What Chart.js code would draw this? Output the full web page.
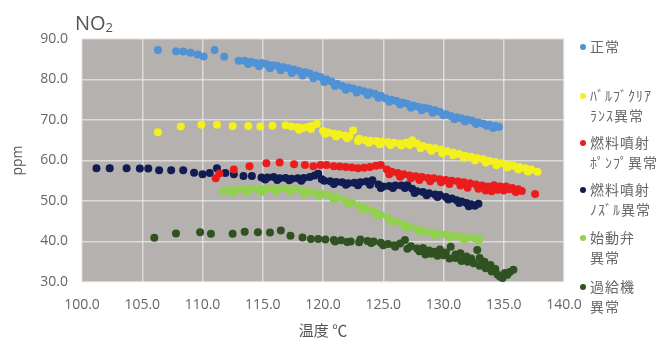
<!DOCTYPE html>
<html>
<head>
<meta charset="utf-8">
<script src="https://cdn.jsdelivr.net/npm/chart.js@4.4.1/dist/chart.umd.min.js"></script>
<style>
  html, body { margin: 0; padding: 0; background: #fff; }
  #wrap { width: 661px; height: 345px; }
</style>
</head>
<body>
<div id="wrap"><canvas id="canvas"></canvas></div>
<script>
// x axis ticks (温度 ℃) and y axis ticks (ppm)
const xTicks = [100, 105, 110, 115, 120, 125, 130, 135, 140];
const yTicks = [30, 40, 50, 60, 70, 80, 90];

// legend names, written on two lines like the original
const seriesNames = [
  ['正常'],
  ['ﾊﾞﾙﾌﾞｸﾘｱ', 'ﾗﾝｽ異常'],
  ['燃料噴射', 'ﾎﾟﾝﾌﾟ異常'],
  ['燃料噴射', 'ﾉｽﾞﾙ異常'],
  ['始動弁', '異常'],
  ['過給機', '異常']
];
const seriesColors = ['#4f92d6', '#f4f01c', '#ec1c1c', '#101c52', '#92d050', '#2f5220'];

// 正常
const normalX = [106.3,107.8,108.4,109.0,109.6,110.1,111.0,111.8,113.0,113.5,114.0,114.4,114.9,115.3,115.8,116.2,116.7,117.1,
  117.6,118.0,118.5,118.9,119.4,119.8,120.3,120.7,121.2,121.6,122.1,122.5,123.0,123.4,123.9,124.3,124.8,125.2,125.7,126.1,
  126.6,127.0,127.5,127.9,128.4,128.8,129.3,129.7,130.2,130.6,131.1,131.5,132.0,132.4,132.9,133.3,133.8,134.3,134.6,
  113.8,114.7,115.6,116.5,117.4,118.3,119.2,120.1,121.0,121.9,122.8,123.7,124.6,125.5,126.4,127.3,128.2,129.1,130.0,130.9,
  131.8,132.7,133.6,134.1];
const normalY = [87.3,87.0,86.9,86.6,86.2,85.7,87.3,85.6,84.6,84.6,84.4,84.1,84.1,83.8,83.5,83.4,83.0,82.8,
  82.5,82.1,81.8,81.5,81.0,80.6,80.0,79.5,78.9,78.4,78.0,77.8,77.4,77.1,76.8,76.5,76.0,75.4,75.0,74.7,
  74.3,74.0,73.6,73.3,73.0,72.8,72.4,72.0,71.4,71.0,70.7,70.4,70.1,69.8,69.4,69.1,68.8,68.5,68.3,
  83.8,83.3,82.8,82.3,81.6,81.0,80.3,79.4,78.4,77.5,76.8,76.2,75.5,74.5,73.8,73.0,72.4,71.8,71.2,70.2,
  69.6,69.0,68.6,68.0];

// バルブクリアランス異常
const valveX = [106.3,108.2,109.9,111.2,112.5,113.8,114.8,115.8,116.9,117.4,117.9,118.3,118.7,119.1,119.5,120.0,120.4,120.9,
  121.3,121.8,122.2,122.5,123.0,123.5,123.9,124.4,124.9,125.4,125.9,126.4,126.9,127.4,127.8,128.3,128.8,129.3,129.8,130.3,
  130.8,131.3,131.8,132.3,132.8,133.3,133.8,134.3,134.8,135.3,135.8,136.3,136.8,137.3,137.8,
  118.0,119.0,120.2,121.1,122.0,122.9,123.8,124.7,125.6,126.5,127.2,128.1,129.0,129.9,130.8,131.7,132.6,133.5,134.4,135.3,
  136.2,137.0];
const valveY = [67.0,68.4,68.8,68.8,68.5,68.5,68.4,68.6,68.7,68.4,68.2,68.0,68.3,68.6,69.0,67.3,67.0,66.6,
  66.5,66.2,66.0,67.4,65.4,65.0,64.9,64.8,64.6,64.5,64.4,64.2,64.4,65.0,64.2,63.6,63.2,63.0,62.7,62.3,
  62.0,61.6,61.2,60.9,60.6,60.3,59.9,59.6,59.3,59.0,58.7,58.4,58.1,57.8,57.2,
  67.6,67.8,66.6,65.9,65.5,64.8,64.4,64.0,63.8,63.7,63.8,63.0,62.4,61.8,61.3,60.6,60.0,59.5,58.8,58.3,
  57.8,57.3];

// 燃料噴射ポンプ異常
const pumpX = [111.1,111.4,112.6,113.9,115.3,116.4,117.6,118.5,119.2,119.8,120.3,120.9,121.4,121.9,122.4,122.9,123.4,123.9,
  124.4,124.8,125.3,125.7,126.2,126.7,127.2,127.7,128.2,128.7,129.2,129.7,130.2,130.7,131.2,131.7,132.2,132.7,133.2,133.7,
  134.2,134.7,135.2,135.7,136.2,136.5,137.6,
  125.5,126.4,127.3,128.0,128.9,129.8,130.5,131.4,132.0,132.9,133.5,134.0,134.5,135.0,135.5,136.0];
const pumpY = [55.6,56.8,57.8,58.6,59.3,59.5,59.1,58.9,58.6,58.9,58.9,58.6,58.5,58.4,58.3,58.1,58.2,58.4,
  58.7,58.9,57.8,57.2,56.9,56.6,56.3,56.1,55.9,55.7,55.6,55.4,55.2,55.0,54.8,54.6,54.4,54.1,53.8,53.6,
  53.9,53.6,53.6,53.2,52.9,52.5,51.7,
  56.6,56.0,55.6,55.2,54.9,54.6,54.2,53.8,53.3,53.0,52.6,52.4,52.8,52.6,52.9,52.2];

// 燃料噴射ノズル異常
const nozzleX = [101.2,102.3,103.7,104.8,105.5,106.4,107.4,108.4,109.3,110.0,110.6,111.2,111.9,112.6,113.4,114.1,114.9,115.4,
  115.9,116.4,116.9,117.4,117.9,118.4,118.9,119.3,119.6,120.1,120.6,121.1,121.6,122.1,122.6,123.1,123.6,124.1,124.6,125.0,
  125.5,126.0,126.5,127.0,127.4,127.8,128.3,128.8,129.3,129.7,130.2,130.7,131.1,131.5,131.9,132.3,132.6,132.9,
  115.2,116.2,117.2,118.2,119.9,120.9,121.9,122.9,123.9,124.8,125.8,126.8,127.6,128.6,129.5,130.4,131.3,132.1];
const nozzleY = [58.1,58.1,58.1,58.0,58.0,57.6,57.6,57.6,57.0,56.6,56.9,58.1,56.9,56.6,56.2,56.2,55.8,55.8,
  55.9,55.6,55.7,55.5,55.6,55.7,55.9,56.3,56.7,55.0,54.9,54.7,54.6,54.4,54.5,54.6,54.8,55.1,54.1,53.6,
  53.7,53.8,53.8,53.9,53.0,52.4,52.2,51.9,51.6,51.5,51.0,50.6,50.2,49.9,49.5,49.2,48.8,49.3,
  55.3,55.2,55.1,55.0,55.4,54.2,54.0,53.9,54.0,53.2,53.2,53.2,52.0,51.4,51.0,50.4,49.5,48.7];

// 始動弁異常
const startX = [111.7,112.2,112.8,113.4,114.0,114.6,115.2,115.8,116.4,117.0,117.6,118.2,118.8,119.4,120.0,120.6,121.2,121.8,
  122.4,123.0,123.6,124.2,124.8,125.4,126.0,126.6,127.2,127.8,128.4,129.0,129.6,130.2,130.8,131.4,132.0,132.6,133.0,
  112.5,113.7,114.9,116.1,117.3,118.5,119.7,120.9,122.1,123.3,124.5,125.7,126.9,128.1,129.3,130.5,131.7,132.9];
const startY = [52.5,52.7,52.8,52.9,53.0,53.0,53.1,53.1,53.0,53.1,53.0,52.6,52.3,52.0,51.7,51.3,50.8,50.2,
  49.6,48.9,48.2,47.5,46.6,45.8,45.0,44.3,43.7,43.1,42.6,42.2,41.9,41.7,41.5,41.2,41.0,40.8,40.7,
  52.0,52.2,52.3,52.4,52.3,51.8,51.2,50.4,49.3,47.9,46.4,44.8,43.4,42.3,41.5,41.0,40.5,40.2];

// 過給機異常
const turboX = [106.0,107.8,109.8,110.7,112.5,113.5,114.6,115.6,116.5,117.3,118.3,119.0,119.6,120.2,120.9,121.5,122.3,123.1,
  123.7,124.2,124.8,125.4,125.9,126.4,126.8,127.3,127.8,128.3,128.8,129.2,129.7,130.2,130.6,131.0,131.4,131.9,132.3,132.8,
  133.0,133.4,133.9,134.3,134.7,135.1,135.5,135.8,
  121.0,122.0,123.0,124.0,125.0,126.0,127.0,128.0,128.5,129.0,129.5,130.0,130.5,131.0,131.5,132.0,132.5,133.0,133.5,134.0,
  134.5,134.9,135.3];
const turboY = [40.9,42.0,42.3,41.9,41.9,42.4,42.3,42.2,42.7,41.4,41.0,40.6,40.6,40.5,40.4,40.3,40.0,40.5,
  40.1,40.0,39.7,39.4,39.1,39.5,40.4,38.8,38.3,38.4,37.8,37.5,38.0,37.3,38.7,36.8,37.1,36.3,35.8,37.9,
  35.9,35.0,34.2,33.2,31.3,32.2,32.5,33.0,
  40.0,39.9,39.8,39.6,39.1,38.7,38.2,37.6,36.8,37.0,36.5,36.6,35.8,35.9,35.2,35.0,34.6,34.0,33.4,32.6,
  31.8,31.0,31.8];

const seriesX = [normalX, valveX, pumpX, nozzleX, startX, turboX];
const seriesY = [normalY, valveY, pumpY, nozzleY, startY, turboY];

function points(xs, ys) {
  return xs.map((x, i) => ({ x: x, y: ys[i] }));
}

const datasets = seriesNames.map((name, i) => ({
  label: name.join(''),
  data: points(seriesX[i], seriesY[i]),
  backgroundColor: seriesColors[i],
  borderWidth: 0,
  pointRadius: 4
}));

// gray plot area
const plotBg = {
  id: 'plotBg',
  beforeDraw(chart) {
    const a = chart.chartArea, ctx = chart.ctx;
    ctx.save();
    ctx.fillStyle = '#b5b1af';
    ctx.fillRect(a.left, a.top, a.right - a.left, a.bottom - a.top);
    ctx.restore();
  }
};

// NO2 title with subscript
const titlePlugin = {
  id: 'no2Title',
  afterDraw(chart) {
    const ctx = chart.ctx;
    ctx.save();
    ctx.fillStyle = '#555';
    ctx.textBaseline = 'alphabetic';
    ctx.font = '20px "Open Sans"';
    ctx.fillText('NO', 75, 30);
    const w = ctx.measureText('NO').width;
    ctx.font = '13px "Open Sans"';
    ctx.fillText('2', 75 + w, 32);
    ctx.restore();
  }
};

// legend at the right, names on two lines
const sideLegend = {
  id: 'sideLegend',
  afterDraw(chart) {
    const ctx = chart.ctx;
    const rows = [47, 96, 143, 190, 238, 287];
    ctx.save();
    ctx.font = '14px "Noto Sans CJK JP"';
    ctx.letterSpacing = '1px';
    ctx.textBaseline = 'middle';
    seriesNames.forEach((lines, i) => {
      ctx.fillStyle = seriesColors[i];
      ctx.beginPath();
      ctx.arc(583, rows[i], 3, 0, Math.PI * 2);
      ctx.fill();
      ctx.fillStyle = '#666';
      lines.forEach((t, j) => ctx.fillText(t, 590, rows[i] + j * 20));
    });
    ctx.restore();
  }
};

const tickFont = { family: '"Open Sans"', size: 14 };
const gridColor = 'rgba(235,232,231,0.75)';

new Chart(document.getElementById('canvas').getContext('2d'), {
  type: 'scatter',
  data: { datasets: datasets },
  plugins: [plotBg, titlePlugin, sideLegend],
  options: {
    responsive: true,
    maintainAspectRatio: false,
    animation: false,
    layout: { padding: { top: 39, right: 97, left: 0, bottom: 0 } },
    plugins: { legend: { display: false }, tooltip: { enabled: false } },
    scales: {
      x: {
        type: 'linear',
        min: xTicks[0],
        max: xTicks[xTicks.length - 1],
        afterBuildTicks: s => { s.ticks = xTicks.map(v => ({ value: v })); },
        afterFit: s => { s.height = 63; },
        ticks: { color: '#666', font: tickFont, padding: 15, callback: v => v.toFixed(1) },
        grid: { color: gridColor, lineWidth: 1.5, drawTicks: false },
        border: { display: false },
        title: { display: true, text: '温度 ℃', color: '#555', font: { family: '"Noto Sans CJK JP"', size: 15 }, padding: { top: 6, bottom: 6 } }
      },
      y: {
        type: 'linear',
        min: yTicks[0],
        max: yTicks[yTicks.length - 1],
        afterBuildTicks: s => { s.ticks = yTicks.map(v => ({ value: v })); },
        afterFit: s => { s.width = 82; },
        ticks: { color: '#666', font: tickFont, padding: 14, callback: v => v.toFixed(1) },
        grid: { color: gridColor, lineWidth: 1.5, drawTicks: false },
        border: { display: false },
        title: { display: true, text: 'ppm', color: '#555', font: { family: '"Open Sans"', size: 14 }, padding: { top: 10, bottom: 10 } }
      }
    }
  }
});
</script>
</body>
</html>
